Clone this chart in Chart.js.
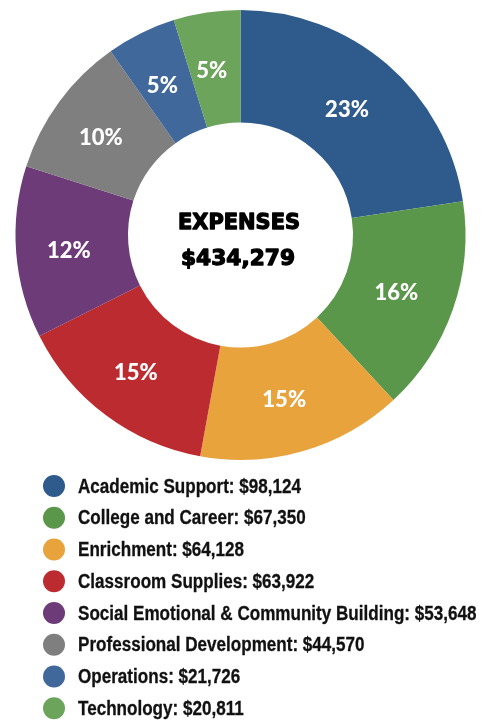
<!DOCTYPE html>
<html>
<head>
<meta charset="utf-8">
<script src="https://cdn.jsdelivr.net/npm/chart.js@4"></script>
<style>
html,body{margin:0;padding:0;background:#fff;}
#wrap{width:499px;height:720px;position:relative;}
</style>
</head>
<body>
<div id="wrap"><canvas id="c" width="499" height="720"></canvas></div>
<script>
const categories = ["Academic Support","College and Career","Enrichment","Classroom Supplies","Social Emotional & Community Building","Professional Development","Operations","Technology"];
const amounts = [98124,67350,64128,63922,53648,44570,21726,20811];
const colors = ["#2E5A8C","#5B974A","#E8A33D","#BC2B30","#6D3B78","#7F7F7F","#41689B","#6BA45A"];
const centerTitle = "EXPENSES";
const centerTotal = "$434,279";

const total = amounts.reduce((a,b)=>a+b,0);
const fmt = v => "$" + v.toLocaleString("en-US");

function drawScaled(ctx, text, x, y, targetW, align, stroke){
  const w = ctx.measureText(text).width;
  const sx = targetW ? targetW / w : 1;
  ctx.save();
  ctx.translate(x, y);
  ctx.scale(sx, 1);
  ctx.textAlign = align || "left";
  ctx.fillText(text, 0, 0);
  if (stroke) ctx.strokeText(text, 0, 0);
  ctx.restore();
}

const labelsPlugin = {
  id: "labels",
  afterDatasetsDraw(chart){
    const ctx = chart.ctx;
    const meta = chart.getDatasetMeta(0);
    ctx.save();
    ctx.fillStyle = "#ffffff";
    ctx.font = "900 22px Lato, 'Open Sans', sans-serif";
    ctx.textAlign = "center";
    ctx.textBaseline = "middle";
    meta.data.forEach((arc, i) => {
      const p = arc.tooltipPosition();
      const pct = Math.round(amounts[i] / total * 100) + "%";
      ctx.fillText(pct, p.x - 3.5, p.y + 2.5);
    });
    // center text
    const cx = meta.data[0].x, cy = meta.data[0].y;
    ctx.fillStyle = "#000000";
    ctx.textBaseline = "alphabetic";
    ctx.font = "bold 22px 'DejaVu Sans', sans-serif";
    ctx.lineWidth = 1.3; ctx.strokeStyle = "#000"; ctx.lineJoin = "round";
    drawScaled(ctx, centerTitle, cx - 1.5, cy - 6.5, 122, "center", true);
    drawScaled(ctx, centerTotal, cx - 2.5, cy + 30, 114, "center", true);
    // legend
    ctx.textBaseline = "middle";
    ctx.font = "bold 20px 'Liberation Sans Narrow', 'Liberation Sans', Arial, sans-serif";
    ctx.lineWidth = 0.3; ctx.strokeStyle = "#111";
    const refW = ctx.measureText(categories[0] + ": " + fmt(amounts[0])).width;
    const sx = 223 / refW;
    categories.forEach((c, i) => {
      const y = 486 + i * 31.75;
      ctx.beginPath();
      ctx.fillStyle = colors[i];
      ctx.arc(54, y, 11, 0, Math.PI * 2);
      ctx.fill();
      ctx.fillStyle = "#111111";
      ctx.save();
      ctx.translate(78, y + 1);
      ctx.scale(sx, 1);
      ctx.textAlign = "left";
      const t = c + ": " + fmt(amounts[i]);
      ctx.fillText(t, 0, 0);
      ctx.strokeText(t, 0, 0);
      ctx.restore();
    });
    ctx.restore();
  }
};

new Chart(document.getElementById("c"), {
  type: "doughnut",
  data: {
    labels: categories,
    datasets: [{
      data: amounts,
      backgroundColor: colors,
      borderWidth: 0
    }]
  },
  options: {
    responsive: false,
    animation: false,
    cutout: "50%",
    layout: { padding: { left: 15, right: 33, top: 10, bottom: 260 } },
    plugins: {
      legend: { display: false },
      tooltip: { enabled: false }
    }
  },
  plugins: [labelsPlugin]
});
</script>
</body>
</html>
